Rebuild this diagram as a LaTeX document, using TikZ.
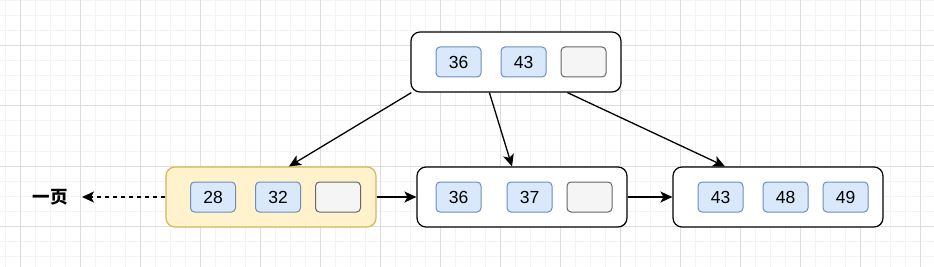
\documentclass[tikz,border=0pt]{standalone}
\usepackage{fontspec}
\setmainfont{Liberation Sans}
\newfontfamily\cjkfont{Noto Sans CJK SC}
\usetikzlibrary{calc,arrows.meta}
\definecolor{keyfill}{HTML}{DAE8FC}
\definecolor{keydraw}{HTML}{6C8EBF}
\definecolor{nilfill}{HTML}{F5F5F5}
\definecolor{nildraw}{HTML}{666666}
\definecolor{leaffill}{HTML}{FFF2CC}
\definecolor{leafdraw}{HTML}{D6B656}
\definecolor{gridminor}{HTML}{F3F3F3}
\definecolor{gridmajor}{HTML}{DDDDDD}
\tikzset{
  page/.style={draw=black, line width=1.2pt, rounded corners=9pt, minimum width=210pt, minimum height=60pt},
  key/.style={draw=keydraw, fill=keyfill, line width=1pt, rounded corners=4pt, minimum width=45pt, minimum height=30pt, font=\fontsize{17.5}{20}\selectfont},
  nil/.style={key, draw=nildraw, fill=nilfill},
  link/.style={draw, line width=1.3pt, -{Stealth[length=12pt, width=11pt, inset=3pt]}}
}

\begin{document}
\begin{tikzpicture}[x=1pt, y=-1pt]
    \useasboundingbox (0,0) rectangle (934,267);
    % grid
    \foreach \gx in {5,20,...,934} \path[draw, gridminor, line width=1pt](\gx,0)to(\gx,267);
    \foreach \gy in {1,16,...,267} \path[draw, gridminor, line width=1pt](0,\gy)to(934,\gy);
    \foreach \gx in {20,80,...,934} \path[draw, gridmajor, line width=1pt](\gx,0)to(\gx,267);
    \foreach \gy in {46,106,...,267} \path[draw, gridmajor, line width=1pt](0,\gy)to(934,\gy);
    % root
    \node[page, fill=white](root)at(516,62){};
    \node[key](r1)at(458.5,62){36};
    \node[key](r2)at(523.5,62){43};
    \node[nil](r3)at(583.5,62){};
    % leaves
    \node[page, draw=leafdraw, fill=leaffill](leafA)at(271,197){};
    \node[key](a1)at(213,197){28};
    \node[key](a2)at(278,197){32};
    \node[nil](a3)at(338,197){};
    \node[page, fill=white](leafB)at(522,197){};
    \node[key](b1)at(458.5,197){36};
    \node[key](b2)at(529.5,197){37};
    \node[nil](b3)at(589.5,197){};
    \node[page, fill=white](leafC)at(778,197){};
    \node[key](c1)at(720.5,197){43};
    \node[key](c2)at(785.5,197){48};
    \node[key](c3)at(845.5,197){49};
    \node[font=\cjkfont\bfseries\fontsize{17.5}{20}\selectfont](one)at(50,197){一页};
    \coordinate(oneend)at(82,197);
    % links
    \path[link]($(root.south west)+(1,0)$)to($(leafA.north)+(18,0)$);
    \path[link]($(root.south west)+(79,0)$)to($(leafB.north)+(-10,0)$);
    \path[link]($(root.south west)+(157,0)$)to($(leafC.north)+(-53,0)$);
    \path[link](leafA)to(leafB);
    \path[link](leafB)to(leafC);
    \path[link, dash pattern=on 4.5pt off 3.5pt](leafA.west)to(oneend);
\end{tikzpicture}
\end{document}
